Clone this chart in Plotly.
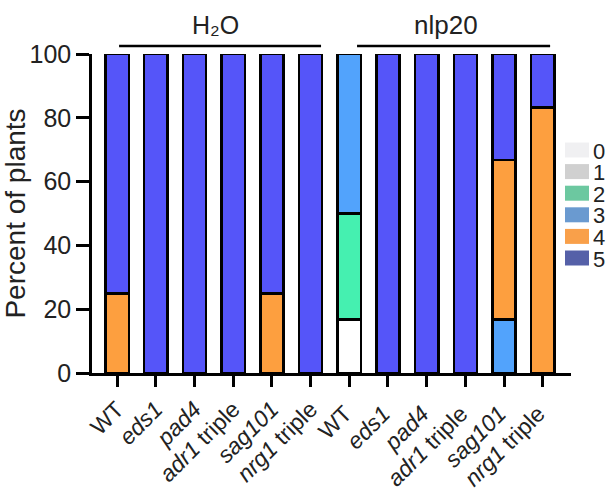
import plotly.graph_objects as go

categories = ["WT", "<i>eds1</i>", "<i>pad4</i>", "<i>adr1</i> triple", "<i>sag101</i>", "<i>nrg1</i> triple",
              "WT ", "<i>eds1</i> ", "<i>pad4</i> ", "<i>adr1</i> triple ", "<i>sag101</i> ", "<i>nrg1</i> triple "]
scores = ["0", "1", "2", "3", "4", "5"]
score0 = [0, 0, 0, 0, 0, 0, 16.7, 0, 0, 0, 0, 0]
score1 = [0, 0, 0, 0, 0, 0, 0, 0, 0, 0, 0, 0]
score2 = [0, 0, 0, 0, 0, 0, 33.3, 0, 0, 0, 0, 0]
score3 = [0, 0, 0, 0, 0, 0, 50.0, 0, 0, 0, 16.7, 0]
score4 = [25, 0, 0, 0, 25, 0, 0, 0, 0, 0, 50.0, 83.3]
score5 = [75, 100, 100, 100, 75, 100, 0, 100, 100, 100, 33.3, 16.7]
series = [score0, score1, score2, score3, score4, score5]
bar_colors = ["#ffffff", "#d3d3d3", "#45f0b0", "#52a3fc", "#fd9f3f", "#5555f9"]
legend_colors = ["#f0f0f2", "#d0d0d0", "#6cc8a0", "#6a9ad0", "#f9a04a", "#5560a8"]
groups = ["H₂O", "nlp20"]

font = "Liberation Sans, Arial, sans-serif"
txt = "#222222"
W, H = 610, 494
ML, MR, MT, MB = 92, 39, 54, 121
PW, PH = W - ML - MR, H - MT - MB


def px_x(fx):
    return (fx - ML) / PW


def px_y(fy):
    return (H - MB - fy) / PH


fig = go.Figure()
for name, vals, col in zip(scores, series, bar_colors):
    fig.add_trace(go.Bar(x=categories, y=vals, marker=dict(color=col, line=dict(color="black", width=2.5)),
                         showlegend=False, name=name))

# legend drawn as swatches + labels (compact rows like the reference)
row0, row_step = 150, 21.6
for i, (name, col) in enumerate(zip(scores, legend_colors)):
    cy = row0 + i * row_step
    fig.add_shape(type="rect", xref="paper", yref="paper",
                  x0=px_x(565), x1=px_x(589), y0=px_y(cy + 7.5), y1=px_y(cy - 7.5),
                  fillcolor=col, line=dict(width=0), layer="above")
    fig.add_annotation(x=px_x(591), y=px_y(cy + 1), xref="paper", yref="paper", text=name, showarrow=False,
                       xanchor="left", yanchor="middle", font=dict(size=22, family=font, color=txt))

fig.update_layout(
    barmode="stack", bargap=0.40,
    width=W, height=H, showlegend=False,
    margin=dict(l=ML, r=MR, t=MT, b=MB, autoexpand=False),
    plot_bgcolor="white", paper_bgcolor="white",
    font=dict(family=font, color=txt),
    xaxis=dict(range=[-0.65, 11.73], showline=True, linecolor="black", linewidth=2.5,
               ticks="outside", ticklen=11, tickwidth=2.5, tickcolor="black",
               tickangle=-45, tickfont=dict(size=23, family=font, color=txt), showgrid=False),
    yaxis=dict(range=[0, 100], showline=True, linecolor="black", linewidth=2.5,
               ticks="outside", ticklen=13, tickwidth=2.5, tickcolor="black",
               tickvals=[0, 20, 40, 60, 80, 100], tickfont=dict(size=25, family=font, color=txt),
               showgrid=False, zeroline=False,
               title=dict(text="Percent of plants", font=dict(size=28, family=font, color=txt), standoff=1)),
)
fig.add_shape(type="line", xref="x", yref="paper", x0=0.05, x1=5.27, y0=1.025, y1=1.025,
              line=dict(color="black", width=2.5))
fig.add_shape(type="line", xref="x", yref="paper", x0=6.20, x1=11.19, y0=1.025, y1=1.025,
              line=dict(color="black", width=2.5))
fig.add_annotation(x=2.53, y=1.091, xref="x", yref="paper", text=groups[0], showarrow=False,
                   yanchor="middle", font=dict(size=25, family=font, color=txt))
fig.add_annotation(x=8.50, y=1.091, xref="x", yref="paper", text=groups[1], showarrow=False,
                   yanchor="middle", font=dict(size=26, family=font, color=txt))
fig.write_html("out.html", config={"displayModeBar": False},
               post_script="document.body.style.margin='0';document.body.style.overflow='hidden';")
